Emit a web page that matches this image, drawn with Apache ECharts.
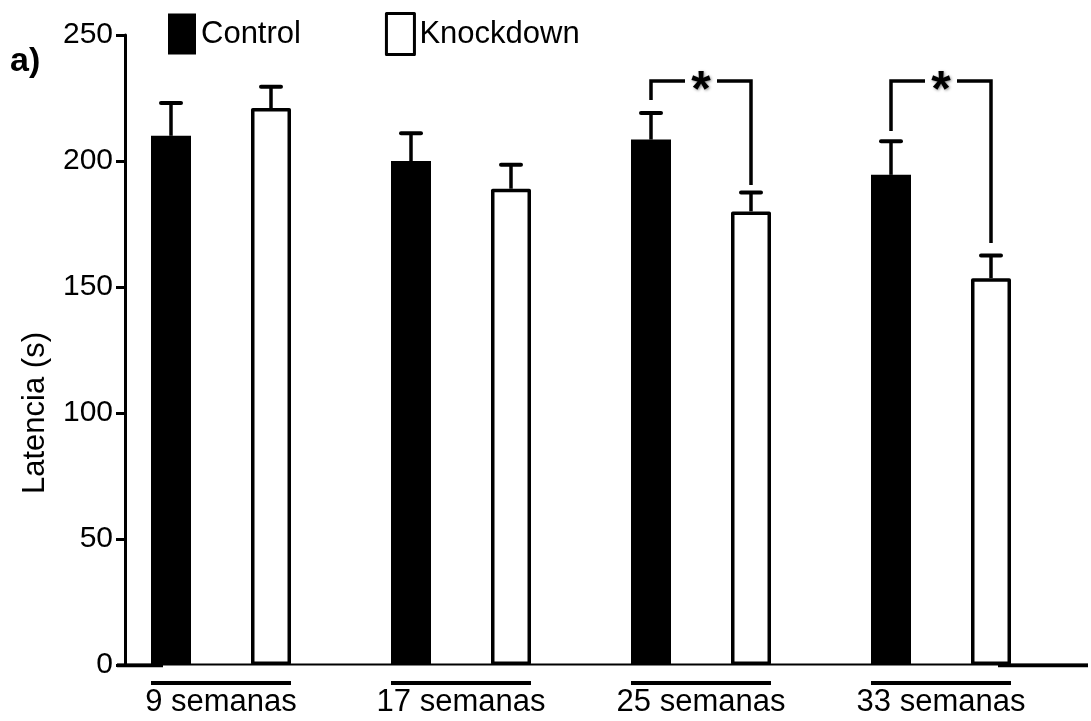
<!DOCTYPE html>
<html>
<head>
<meta charset="utf-8">
<script src="https://cdn.jsdelivr.net/npm/echarts@6/dist/echarts.min.js"></script>
<style>
html,body{margin:0;padding:0;background:#fff;}
#chart{width:1091px;height:721px;}
</style>
</head>
<body>
<div id="chart"></div>
<script>
const categories = ['9 semanas', '17 semanas', '25 semanas', '33 semanas'];
const controlMean = [210, 200, 208.5, 194.5];
const controlSem = [13, 11, 10.5, 13.3];
const knockdownMean = [221, 189, 180, 153.5];
const knockdownSem = [8.5, 9.5, 7.5, 9];
const yTicks = [0, 50, 100, 150, 200, 250];
const sigCategory = [2, 3];
const sigTop = [231.7, 231.7];
const sigLeftEnd = [224.2, 211.9];
const sigRightEnd = [190.5, 167.5];

const FONT = '"Liberation Sans", Arial, Helvetica, sans-serif';
const BAR_W = 40;
const BAR_GAP = 60;
const HALF = (BAR_W + BAR_GAP) / 2;

const chart = echarts.init(document.getElementById('chart'), null, {renderer: 'canvas'});

function errorSeries(name, means, sems, dx) {
  return {
    type: 'custom',
    name: name + ' SEM',
    silent: true,
    z: 4,
    data: means.map((m, i) => [i, m, sems[i]]),
    renderItem: function (params, api) {
      const p0 = api.coord([api.value(0), api.value(1)]);
      const p1 = api.coord([api.value(0), api.value(1) + api.value(2)]);
      const x = p0[0] + dx;
      return {
        type: 'group',
        children: [
          {type: 'line', shape: {x1: x, y1: p0[1], x2: x, y2: p1[1]}, style: {stroke: '#000', lineWidth: 3.5}},
          {type: 'line', shape: {x1: x - 10, y1: p1[1], x2: x + 10, y2: p1[1]}, style: {stroke: '#000', lineWidth: 4, lineCap: 'round'}}
        ]
      };
    }
  };
}

const option = {
  animation: false,
  backgroundColor: '#fff',
  textStyle: {fontFamily: FONT, color: '#000'},
  grid: {left: 101, right: 30, top: 35, bottom: 56, containLabel: false},
  legend: {
    left: 168, top: 12, padding: 0,
    itemWidth: 28, itemHeight: 41, itemGap: 84,
    icon: 'rect',
    selectedMode: false,
    textStyle: {fontFamily: FONT, fontSize: 31, color: '#000'},
    data: [
      {name: 'Control', itemStyle: {color: '#000', borderWidth: 0}},
      {name: 'Knockdown', itemStyle: {color: '#fff', borderColor: '#000', borderWidth: 3}}
    ]
  },
  xAxis: {
    type: 'category',
    data: categories,
    axisLine: {show: false},
    axisTick: {show: false},
    axisLabel: {fontFamily: FONT, fontSize: 31, color: '#000', margin: 22, interval: 0}
  },
  yAxis: {
    type: 'value',
    min: 0, max: 250, interval: 50,
    offset: -24,
    axisLine: {show: true, lineStyle: {color: '#000', width: 3}},
    axisTick: {show: true, length: 9, lineStyle: {color: '#000', width: 3}},
    axisLabel: {fontFamily: FONT, fontSize: 30, color: '#000', margin: 12,
      formatter: function (v) { return yTicks.indexOf(v) >= 0 ? String(v) : ''; }},
    splitLine: {show: false}
  },
  series: [
    {
      name: 'Control', type: 'bar', data: controlMean,
      barWidth: BAR_W, barGap: (BAR_GAP / BAR_W * 100) + '%',
      itemStyle: {color: '#000'}, silent: true, z: 2
    },
    {
      name: 'Knockdown', type: 'bar', data: knockdownMean,
      barWidth: BAR_W,
      itemStyle: {color: '#fff', borderColor: '#000', borderWidth: 3.5, borderJoin: 'round'}, silent: true, z: 2
    },
    errorSeries('Control', controlMean, controlSem, -HALF),
    errorSeries('Knockdown', knockdownMean, knockdownSem, HALF),
    {
      type: 'custom', name: 'groups', silent: true, z: 4,
      data: categories.map((c, i) => [i, 0]),
      renderItem: function (params, api) {
        const p = api.coord([api.value(0), 0]);
        return {type: 'line', shape: {x1: p[0] - HALF - BAR_W / 2, y1: p[1] + 18, x2: p[0] + HALF + BAR_W / 2, y2: p[1] + 18},
          style: {stroke: '#000', lineWidth: 4}};
      }
    },
    {
      type: 'custom', name: 'signif', silent: true, z: 5,
      data: sigCategory.map((c, i) => [c, sigTop[i], sigLeftEnd[i], sigRightEnd[i]]),
      renderItem: function (params, api) {
        const c = api.coord([api.value(0), api.value(1)]);
        const yl = api.coord([api.value(0), api.value(2)])[1];
        const yr = api.coord([api.value(0), api.value(3)])[1];
        const xl = c[0] - HALF, xr = c[0] + HALF, yt = c[1];
        const st = {stroke: '#000', lineWidth: 3.5, fill: null, lineJoin: 'miter', lineCap: 'butt'};
        return {
          type: 'group',
          children: [
            {type: 'polyline', shape: {points: [[xl, yl], [xl, yt], [c[0] - 16, yt]]}, style: st},
            {type: 'polyline', shape: {points: [[c[0] + 16, yt], [xr, yt], [xr, yr]]}, style: st},
            {type: 'text', x: c[0], y: yt + 11, style: {text: '*', fill: '#000', fontFamily: FONT, fontWeight: 'bold', fontSize: 50,
              align: 'center', verticalAlign: 'middle', textShadowColor: 'rgba(0,0,0,0.45)', textShadowBlur: 3, textShadowOffsetX: 1, textShadowOffsetY: 1}}
          ]
        };
      }
    }
  ]
};

chart.setOption(option);

const y0 = chart.convertToPixel({yAxisIndex: 0}, 0);
chart.setOption({
  graphic: [
    {type: 'line', shape: {x1: 117, y1: y0 - 0.5, x2: 1088, y2: y0 - 0.5}, style: {stroke: '#000', lineWidth: 2}, z: 10},
    {type: 'line', shape: {x1: 117, y1: y0 + 0.5, x2: 163, y2: y0 + 0.5}, style: {stroke: '#000', lineWidth: 3.5}, z: 10},
    {type: 'line', shape: {x1: 998, y1: y0 + 0.5, x2: 1088, y2: y0 + 0.5}, style: {stroke: '#000', lineWidth: 3.5}, z: 10},
    {type: 'text', left: 10, top: 45, style: {text: 'a)', fontFamily: FONT, fontWeight: 'bold', fontSize: 34, fill: '#000'}},
    {type: 'text', x: 35, y: 413, rotation: Math.PI / 2,
      style: {text: 'Latencia (s)', fontFamily: FONT, fontSize: 31, fill: '#000', align: 'center', verticalAlign: 'middle'}}
  ]
});
</script>
</body>
</html>
